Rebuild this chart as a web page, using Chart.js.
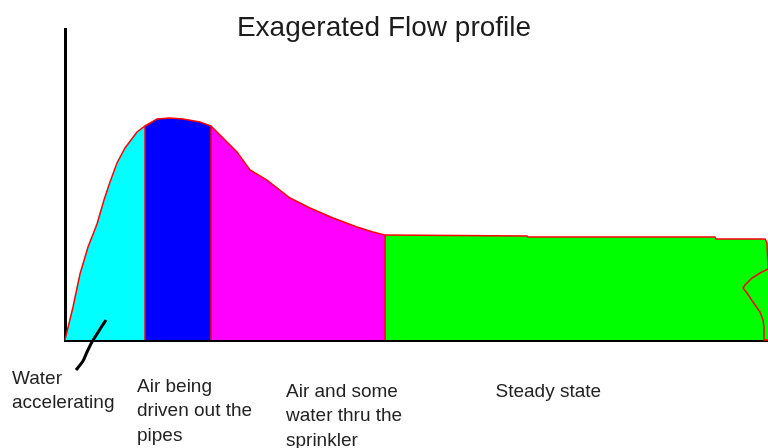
<!DOCTYPE html>
<html>
<head>
<meta charset="utf-8">
<script src="https://cdn.jsdelivr.net/npm/chart.js@4.4.1/dist/chart.umd.min.js"></script>
<style>
  html, body { margin: 0; padding: 0; background: #ffffff; }
  #wrap { width: 768px; height: 448px; }
</style>
</head>
<body>
<div id="wrap"><canvas id="c" width="768" height="448"></canvas></div>
<script>
// ---- data (time units along x, flow units along y) ----
const chartTitle = "Exagerated Flow profile";
const phaseLabels = [
  ["Water", "accelerating"],
  ["Air being", "driven out the", "pipes"],
  ["Air and some", "water thru the", "sprinkler"],
  ["Steady state"]
];

// phase 1: water accelerating
const accelT    = [0, 8, 15, 23, 32, 39, 45, 52, 60, 72, 80, 80];
const accelFlow = [0, 33, 66, 93, 116, 140, 158, 177, 192, 208, 214, 0];
// phase 2: air being driven out the pipes
const airT      = [80, 92, 105, 118, 135, 146, 146];
const airFlow   = [214, 221, 222, 221, 218, 214, 0];
// phase 3: air and some water thru the sprinkler
const mixT      = [146, 155, 162, 172, 185, 202, 225, 245, 268, 292, 308, 320, 320];
const mixFlow   = [214, 205, 198, 188, 170, 160, 142, 132, 122, 113, 108, 105, 0];
// phase 4: steady state (with the torn right edge)
const steadyT    = [320, 462, 463, 650, 651, 700, 702, 703, 695, 687, 680, 678, 682, 688, 695, 698, 699, 699, 703];
const steadyFlow = [105, 104, 103, 103, 101, 101, 97, 71, 67, 62, 55, 52, 47, 38, 28, 20, 13, 0, 0];
// hand-drawn pointer from the "Water accelerating" label
const pointerT    = [11, 18, 22, 27, 32, 37, 41];
const pointerFlow = [-30, -21, -12, -2, 6, 14, 20];

const axisMaxT = 703;
const axisMaxFlow = 311;

// ---- helpers ----
const pts = (xs, ys) => xs.map((x, i) => ({ x: x, y: ys[i] }));

function phaseDataset(xs, ys, fillColor) {
  return {
    data: pts(xs, ys),
    borderColor: '#ff0000',
    borderWidth: 1.5,
    backgroundColor: fillColor,
    fill: 'origin',
    tension: 0,
    pointRadius: 0,
    clip: false
  };
}

// label anchors in data units (left x, first-line baseline), kept apart from the texts
const labelAnchorT    = [-53, 72, 221, 430.5];
const labelAnchorFlow = [-43.5, -51.7, -56.7, -56.7];
const labelLineStep = 24.5;

const phaseLabelPlugin = {
  id: 'phaseLabels',
  afterDraw(chart) {
    const ctx = chart.ctx;
    const xs = chart.scales.x, ys = chart.scales.y;
    ctx.save();
    ctx.font = '19px "Liberation Sans", Arial, sans-serif';
    ctx.fillStyle = '#222222';
    ctx.textAlign = 'left';
    ctx.textBaseline = 'alphabetic';
    phaseLabels.forEach((lines, i) => {
      const px = xs.getPixelForValue(labelAnchorT[i]);
      const py = ys.getPixelForValue(labelAnchorFlow[i]);
      lines.forEach((line, j) => ctx.fillText(line, px, py + j * labelLineStep));
    });
    ctx.restore();
  }
};

new Chart(document.getElementById('c'), {
  type: 'line',
  data: {
    datasets: [
      {
        data: pts(pointerT, pointerFlow),
        borderColor: '#000000',
        borderWidth: 3,
        fill: false,
        tension: 0.3,
        pointRadius: 0,
        clip: false
      },
      phaseDataset(accelT, accelFlow, '#00ffff'),
      phaseDataset(airT, airFlow, '#0000ff'),
      phaseDataset(mixT, mixFlow, '#ff00ff'),
      phaseDataset(steadyT, steadyFlow, '#00ff00')
    ]
  },
  options: {
    responsive: false,
    animation: false,
    events: [],
    layout: { padding: { left: 0, right: 0, top: 0, bottom: 108 } },
    plugins: {
      legend: { display: false },
      tooltip: { enabled: false },
      title: {
        display: true,
        text: chartTitle,
        color: '#1c1c1c',
        font: { family: '"Liberation Sans", Arial, sans-serif', size: 28, weight: 'normal', lineHeight: 1.2 },
        padding: { top: 11, bottom: -15.6 }
      }
    },
    scales: {
      x: {
        type: 'linear',
        min: 0,
        max: axisMaxT,
        z: 1,
        grid: { display: false, drawTicks: false },
        ticks: { display: false },
        border: { display: true, color: '#000000', width: 3 }
      },
      y: {
        type: 'linear',
        min: 0,
        max: axisMaxFlow,
        z: 1,
        grid: { display: false, drawTicks: false },
        ticks: { display: false },
        border: { display: true, color: '#000000', width: 3 },
        afterFit(scale) { scale.width = 65; }
      }
    }
  },
  plugins: [phaseLabelPlugin]
});
</script>
</body>
</html>
